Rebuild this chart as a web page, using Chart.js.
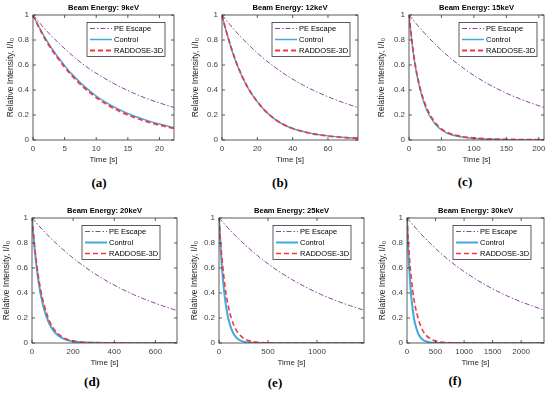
<!DOCTYPE html>
<html>
<head>
<meta charset="utf-8">
<script src="https://cdn.jsdelivr.net/npm/chart.js@4.4.1/dist/chart.umd.min.js"></script>
<style>
body { margin: 0; background: #fff; }
#fig { position: relative; width: 550px; height: 394px; overflow: hidden; background: #fff; }
#fig canvas { position: absolute; }
.tag { position: absolute; font: bold 13px "Liberation Serif", "Times New Roman", serif; color: #000; transform: translate(-50%, -50%); white-space: nowrap; }
</style>
</head>
<body>
<div id="fig"></div>
<script>
// ---- data ----
const titles = ['Beam Energy: 9keV', 'Beam Energy: 12keV', 'Beam Energy: 15keV',
                'Beam Energy: 20keV', 'Beam Energy: 25keV', 'Beam Energy: 30keV'];
const tags = ['(a)', '(b)', '(c)', '(d)', '(e)', '(f)'];
const seriesNames = ['PE Escape', 'Control', 'RADDOSE-3D'];
const xMax = [22.3, 77, 208, 705, 1480, 2400];
const xTicks = [
  [0, 5, 10, 15, 20],
  [0, 20, 40, 60],
  [0, 50, 100, 150, 200],
  [0, 200, 400, 600],
  [0, 500, 1000],
  [0, 500, 1000, 1500, 2000]
];
const yTicks = [0, 0.2, 0.4, 0.6, 0.8, 1];

// PE escape curves (time, relative intensity)
const peA_t = [0, 2.2, 4.5, 6.7, 8.9, 11.2, 13.4, 15.6, 17.8, 20.1, 22.3];
const peB_t = [0, 7.7, 15.4, 23.1, 30.8, 38.5, 46.2, 53.9, 61.6, 69.3, 77];
const peC_t = [0, 20.8, 41.6, 62.4, 83.2, 104, 124.8, 145.6, 166.4, 187.2, 208];
const peD_t = [0, 70, 141, 211, 282, 352, 423, 493, 564, 634, 705];
const peE_t = [0, 148, 296, 444, 592, 740, 888, 1036, 1184, 1332, 1480];
const peF_t = [0, 240, 480, 720, 960, 1200, 1440, 1680, 1920, 2160, 2400];
const peA = [1, 0.87, 0.755, 0.655, 0.57, 0.497, 0.435, 0.382, 0.335, 0.295, 0.26];
const peB = [1, 0.87, 0.757, 0.658, 0.573, 0.5, 0.437, 0.383, 0.337, 0.296, 0.26];
const peC = [1, 0.872, 0.76, 0.662, 0.577, 0.503, 0.44, 0.385, 0.338, 0.297, 0.26];
const peD = [1, 0.873, 0.762, 0.665, 0.58, 0.507, 0.443, 0.388, 0.34, 0.298, 0.26];
const peE = [1, 0.874, 0.764, 0.667, 0.583, 0.51, 0.446, 0.39, 0.342, 0.3, 0.262];
const peF = [1, 0.875, 0.765, 0.668, 0.585, 0.512, 0.448, 0.392, 0.344, 0.302, 0.264];

// Control and RADDOSE-3D curves
const tA = [0, 1, 2, 3, 4, 5, 6, 8, 10, 12, 14, 16, 18, 20, 22.3];
const ctrlA = [1, 0.9, 0.81, 0.73, 0.66, 0.595, 0.535, 0.435, 0.352, 0.287, 0.235, 0.192, 0.157, 0.128, 0.1];
const raddA = [1, 0.895, 0.8, 0.72, 0.65, 0.583, 0.523, 0.422, 0.34, 0.275, 0.223, 0.181, 0.147, 0.119, 0.093];

const tB = [0, 2, 4, 6, 8, 10, 13, 16, 20, 25, 30, 35, 40, 50, 60, 70, 77];
const ctrlB = [1, 0.89, 0.79, 0.7, 0.62, 0.55, 0.46, 0.385, 0.305, 0.225, 0.165, 0.122, 0.092, 0.055, 0.033, 0.02, 0.015];
const raddB = [1, 0.89, 0.795, 0.705, 0.625, 0.555, 0.463, 0.388, 0.307, 0.226, 0.166, 0.123, 0.092, 0.054, 0.032, 0.019, 0.014];

const tC = [0, 3, 6, 10, 15, 20, 25, 30, 40, 50, 60, 75, 90, 110, 130, 160, 208];
const ctrlC = [1, 0.85, 0.72, 0.58, 0.45, 0.35, 0.27, 0.21, 0.13, 0.08, 0.052, 0.03, 0.018, 0.01, 0.006, 0.003, 0.001];
const raddC = [1, 0.86, 0.73, 0.59, 0.46, 0.36, 0.285, 0.225, 0.14, 0.088, 0.058, 0.034, 0.021, 0.012, 0.007, 0.004, 0.002];

const tD = [0, 10, 20, 30, 40, 50, 60, 80, 100, 120, 150, 180, 220, 260, 300, 400, 705];
const ctrlD = [1, 0.8, 0.64, 0.51, 0.41, 0.33, 0.265, 0.17, 0.108, 0.07, 0.037, 0.019, 0.008, 0.004, 0.002, 0.0005, 0];
const raddD = [1, 0.82, 0.67, 0.545, 0.445, 0.365, 0.3, 0.195, 0.128, 0.084, 0.045, 0.024, 0.011, 0.005, 0.003, 0.001, 0];

const tE = [0, 20, 40, 60, 80, 100, 125, 150, 175, 200, 250, 300, 400, 500, 700, 1000, 1480];
const ctrlE = [1, 0.72, 0.51, 0.36, 0.255, 0.18, 0.115, 0.072, 0.045, 0.028, 0.011, 0.004, 0.001, 0, 0, 0, 0];
const raddE = [1, 0.77, 0.6, 0.46, 0.355, 0.275, 0.2, 0.145, 0.105, 0.075, 0.038, 0.019, 0.005, 0.0015, 0, 0, 0];

const tF = [0, 25, 50, 75, 100, 125, 150, 200, 250, 300, 400, 500, 600, 800, 1000, 1500, 2400];
const ctrlF = [1, 0.72, 0.52, 0.37, 0.27, 0.19, 0.14, 0.072, 0.037, 0.019, 0.005, 0.0014, 0, 0, 0, 0, 0];
const raddF = [1, 0.8, 0.64, 0.52, 0.42, 0.34, 0.28, 0.19, 0.125, 0.082, 0.036, 0.016, 0.007, 0.0015, 0, 0, 0];

const peT = [peA_t, peB_t, peC_t, peD_t, peE_t, peF_t];
const peY = [peA, peB, peC, peD, peE, peF];
const tS = [tA, tB, tC, tD, tE, tF];
const ctrlY = [ctrlA, ctrlB, ctrlC, ctrlD, ctrlE, ctrlF];
const raddY = [raddA, raddB, raddC, raddD, raddE, raddF];

// ---- layout of the 2x3 grid (pixels) ----
const boxes = [
  { left: 0,   top: 0,   w: 183, padL: 5.2,  yW: 27.8, padR: 9, lgR: 9,  tag: [99, 183] },
  { left: 183, top: 0,   w: 182, padL: 7.2,  yW: 31.8, padR: 7, lgR: 8,  tag: [280, 183] },
  { left: 365, top: 0,   w: 185, padL: 11.9, yW: 32.1, padR: 6, lgR: 7,  tag: [465, 182] },
  { left: 0,   top: 203, w: 183, padL: 1.9,  yW: 30.1, padR: 6, lgR: 17, tag: [92, 382] },
  { left: 183, top: 203, w: 182, padL: 6.9,  yW: 29.1, padR: 1, lgR: 13, tag: [275, 383] },
  { left: 365, top: 203, w: 185, padL: 12.5, yW: 29.5, padR: 6, lgR: 13, tag: [455, 381] }
];

const FONT = '"Liberation Sans", Arial, sans-serif';
const PE_COLOR = '#87469A';
const CTRL_COLOR = '#42A9DC';
const RADD_COLOR = '#F03A3E';

const frame = {
  id: 'frame',
  afterDatasetsDraw(chart, args, opts) {
    const { ctx, chartArea: a, scales: { x, y } } = chart;
    ctx.save();
    ctx.strokeStyle = '#333';
    ctx.lineWidth = 0.8;
    ctx.beginPath();
    x.ticks.forEach(t => {
      const px = x.getPixelForValue(t.value);
      ctx.moveTo(px, a.bottom); ctx.lineTo(px, a.bottom - 3);
      ctx.moveTo(px, a.top); ctx.lineTo(px, a.top + 3);
    });
    y.ticks.forEach(t => {
      const py = y.getPixelForValue(t.value);
      ctx.moveTo(a.left, py); ctx.lineTo(a.left + 3, py);
      ctx.moveTo(a.right, py); ctx.lineTo(a.right - 3, py);
    });
    ctx.stroke();
    ctx.strokeRect(a.left, a.top, a.right - a.left, a.bottom - a.top);

    // title centred over the axes
    ctx.fillStyle = '#000';
    ctx.font = 'bold 7.6px ' + FONT;
    ctx.textAlign = 'center';
    ctx.textBaseline = 'middle';
    ctx.fillText(opts.title, (a.left + a.right) / 2, a.top - 7);

    // legend box inside the axes
    const lw = 78, lh = 34;
    const lx = a.right - opts.lgR - lw, ly = a.top + 7.5;
    ctx.fillStyle = '#fff';
    ctx.fillRect(lx, ly, lw, lh);
    ctx.strokeStyle = '#333';
    ctx.lineWidth = 0.8;
    ctx.strokeRect(lx, ly, lw, lh);
    ctx.font = '7.5px ' + FONT;
    ctx.textAlign = 'left';
    chart.data.datasets.forEach((ds, i) => {
      const ry = ly + 6 + i * 11;
      ctx.save();
      ctx.strokeStyle = ds.borderColor;
      ctx.lineWidth = ds.borderWidth;
      ctx.setLineDash(ds.borderDash || []);
      ctx.beginPath();
      ctx.moveTo(lx + 3, ry); ctx.lineTo(lx + 25, ry);
      ctx.stroke();
      ctx.restore();
      ctx.fillStyle = '#000';
      ctx.fillText(ds.label, lx + 27, ry + 0.5);
    });
    ctx.restore();
  }
};

const fig = document.getElementById('fig');

boxes.forEach((b, i) => {
  const cv = document.createElement('canvas');
  cv.width = b.w; cv.height = 166;
  cv.style.left = b.left + 'px';
  cv.style.top = b.top + 'px';
  cv.style.width = b.w + 'px';
  cv.style.height = '166px';
  fig.appendChild(cv);

  const tag = document.createElement('div');
  tag.className = 'tag';
  tag.textContent = tags[i];
  tag.style.left = b.tag[0] + 'px';
  tag.style.top = b.tag[1] + 'px';
  fig.appendChild(tag);

  const lower = i >= 3;
  const pts = (xs, ys) => xs.map((t, k) => ({ x: t, y: ys[k] }));

  new Chart(cv.getContext('2d'), {
    type: 'line',
    data: {
      datasets: [
        { label: seriesNames[0], data: pts(peT[i], peY[i]), borderColor: PE_COLOR, borderWidth: 1,
          borderDash: [5, 2, 1.5, 2], order: 3 },
        { label: seriesNames[1], data: pts(tS[i], ctrlY[i]), borderColor: CTRL_COLOR, borderWidth: lower ? 2 : 1.5,
          order: 2 },
        { label: seriesNames[2], data: pts(tS[i], raddY[i]), borderColor: RADD_COLOR, borderWidth: lower ? 1.6 : 1.8,
          borderDash: [5, 3], order: 1 }
      ]
    },
    options: {
      responsive: false,
      animation: false,
      events: [],
      elements: { point: { radius: 0 }, line: { cubicInterpolationMode: 'monotone', fill: false } },
      layout: { padding: { top: 15, left: b.padL, right: b.padR, bottom: 0 } },
      scales: {
        x: {
          type: 'linear', min: 0, max: xMax[i],
          grid: { display: false, drawTicks: false },
          border: { display: false },
          afterBuildTicks: s => { s.ticks = xTicks[i].map(v => ({ value: v })); },
          ticks: { maxRotation: 0, autoSkip: false, padding: 4, callback: v => String(v),
                   color: '#404040', font: { family: FONT, size: 8 } },
          title: { display: true, text: 'Time [s]', color: '#262626', padding: { top: 0, bottom: 1 },
                   font: { family: FONT, size: 8 } },
          afterFit: s => { s.height = 26; }
        },
        y: {
          min: 0, max: 1,
          grid: { display: false, drawTicks: false },
          border: { display: false },
          afterBuildTicks: s => { s.ticks = yTicks.map(v => ({ value: v })); },
          ticks: { padding: 4, color: '#404040', font: { family: FONT, size: 8 },
                   callback: v => String(+v.toFixed(1)) },
          title: { display: true, text: 'Relative Intensity, I/I\u2080', color: '#262626', padding: 0,
                   font: { family: FONT, size: 8.5 } },
          afterFit: s => { s.width = b.yW; }
        }
      },
      plugins: {
        legend: { display: false },
        tooltip: { enabled: false },
        frame: { title: titles[i], lgR: b.lgR }
      }
    },
    plugins: [frame]
  });
});
</script>
</body>
</html>
